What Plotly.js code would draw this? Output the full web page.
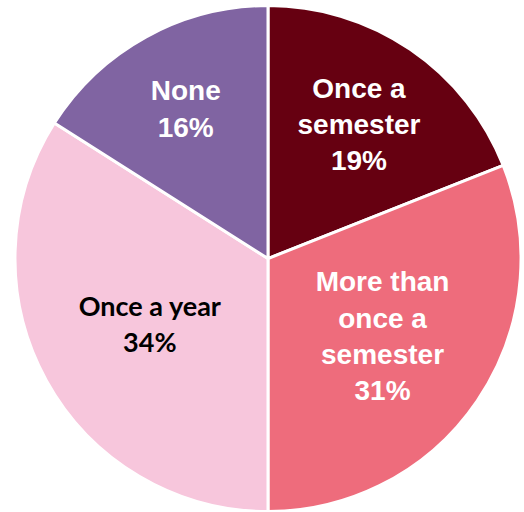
<!DOCTYPE html>
<html>
<head>
<meta charset="utf-8">
<script src="https://cdn.plot.ly/plotly-3.0.1.min.js"></script>
<style>html,body{margin:0;padding:0;background:#fff;}#chart{width:524px;height:512px;}</style>
</head>
<body>
<div id="chart"></div>
<script>
const categories = ["Once a semester", "More than once a semester", "Once a year", "None"];
const values = [19, 31, 34, 16];
const textLabels = ["Once a<br>semester<br>19%", "More than<br>once a<br>semester<br>31%", "Once a year<br>34%", "None<br>16%"];
const colors = ["#660011", "#EE6C7C", "#F7C6DC", "#8064A2"];
const textColors = ["#ffffff", "#ffffff", "#000000", "#ffffff"];
const textFamilies = ["Liberation Sans, Arial, sans-serif", "Liberation Sans, Arial, sans-serif", "Lato, Liberation Sans, sans-serif", "Liberation Sans, Arial, sans-serif"];
const textSizes = [28, 28, 27, 28];

const trace = {
  type: "pie",
  labels: categories,
  values: values,
  text: textLabels,
  textinfo: "text",
  texttemplate: "%{text}",
  textposition: "inside",
  insidetextorientation: "horizontal",
  sort: false,
  direction: "clockwise",
  rotation: 0,
  marker: { colors: colors, line: { color: "#ffffff", width: 3 } },
  textfont: { color: textColors, family: textFamilies, size: textSizes, weight: "bold" },
  hoverinfo: "none",
  domain: { x: [0.0286, 0.9943], y: [0.0, 0.990] }
};

const layout = {
  width: 524,
  height: 512,
  margin: { l: 0, r: 0, t: 0, b: 0 },
  showlegend: false,
  paper_bgcolor: "#ffffff",
  font: { family: "Liberation Sans, Arial, sans-serif" }
};

Plotly.newPlot("chart", [trace], layout, { displayModeBar: false, staticPlot: true });
</script>
</body>
</html>
